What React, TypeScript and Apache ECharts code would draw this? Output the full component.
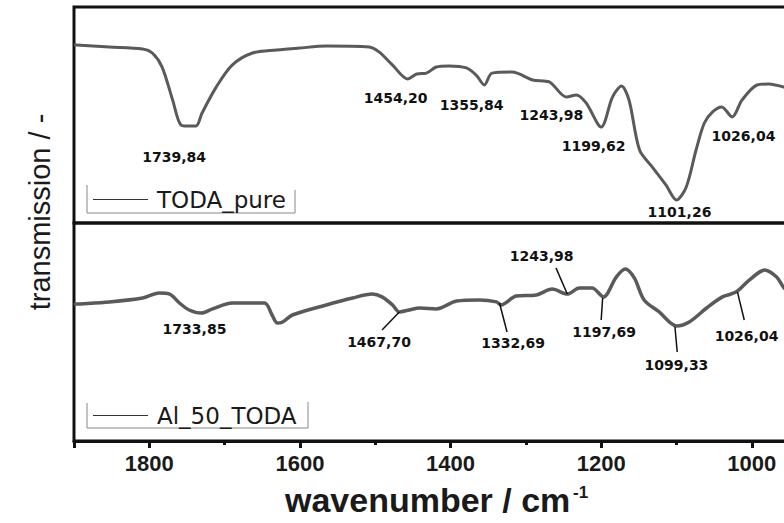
import React, { useEffect, useRef } from "react";
import * as echarts from "echarts";

// Top spectrum: TODA_pure
const topWavenumber = [1900, 1897, 1853, 1809, 1796, 1783, 1769, 1758, 1748, 1738, 1730, 1711, 1690, 1663, 1631, 1601, 1565, 1508, 1495, 1477, 1457, 1445, 1432, 1419, 1402, 1379, 1366, 1355, 1345, 1318, 1291, 1269, 1246, 1233, 1220, 1200, 1185, 1173, 1163, 1149, 1132, 1114, 1100, 1087, 1074, 1063, 1052, 1040, 1026, 1013, 993, 977, 958, 940];
const topTransmission = [82.5, 82.4, 81.5, 80.6, 78.7, 72.2, 56.9, 45.4, 44.9, 44.9, 50.9, 63.0, 73.1, 78.7, 80.1, 81.0, 81.9, 81.5, 79.2, 73.1, 66.7, 69.0, 69.4, 72.2, 72.7, 71.8, 68.5, 63.9, 69.4, 69.9, 66.2, 65.3, 58.3, 59.3, 55.6, 44.4, 58.3, 63.4, 56.9, 33.8, 25.9, 17.6, 10.6, 16.7, 33.8, 46.3, 51.4, 53.7, 49.1, 56.9, 63.9, 64.4, 63.0, 62.0];

// Bottom spectrum: Al_50_TODA
const bottomWavenumber = [1900, 1897, 1853, 1809, 1787, 1773, 1760, 1747, 1731, 1716, 1690, 1647, 1637, 1630, 1623, 1610, 1565, 1530, 1504, 1491, 1477, 1468, 1455, 1441, 1419, 1392, 1362, 1339, 1333, 1313, 1286, 1265, 1245, 1229, 1212, 1197, 1180, 1168, 1156, 1143, 1123, 1100, 1083, 1060, 1039, 1021, 1003, 983, 967, 958, 940];
const bottomTransmission = [62.7, 62.8, 63.8, 65.6, 67.9, 67.4, 63.3, 60.1, 58.7, 60.6, 63.3, 63.3, 57.8, 54.1, 54.6, 57.8, 62.4, 65.6, 67.4, 66.1, 62.4, 59.2, 60.1, 61.0, 60.6, 64.2, 64.7, 63.8, 62.4, 66.5, 67.0, 69.7, 67.4, 70.2, 70.2, 66.1, 75.2, 78.9, 74.8, 64.7, 59.2, 52.8, 54.6, 61.0, 66.1, 68.3, 73.9, 78.4, 75.2, 70.6, 64.0];

// Peak annotations: label text, label anchor (wavenumber, transmission)
const topPeakLabels = ["1739,84", "1454,20", "1355,84", "1243,98", "1199,62", "1101,26", "1026,04"];
const topPeakLabelW = [1767, 1473, 1372, 1266, 1210, 1096, 1011];
const topPeakLabelV = [30.6, 57.9, 54.6, 50.0, 35.6, 5.1, 40.3];

const bottomPeakLabels = ["1733,85", "1467,70", "1332,69", "1243,98", "1197,69", "1099,33", "1026,04"];
const bottomPeakLabelW = [1740, 1495, 1317, 1279, 1196, 1100, 1007];
const bottomPeakLabelV = [51.4, 45.4, 45.0, 84.9, 50.0, 34.9, 48.2];

// Leader lines in bottom panel: from (w, v) on curve to (w, v) near label
const leaderFromW = [1468, 1335, 1245, 1198, 1102, 1019];
const leaderFromV = [59.2, 63.3, 67.4, 65.6, 52.3, 68.3];
const leaderToW = [1491, 1325, 1260, 1200, 1099, 1010];
const leaderToV = [50.9, 50.0, 79.4, 55.5, 40.8, 55.5];

const xTickLabels = [1000, 1200, 1400, 1600, 1800];

const zip = (a: number[], b: number[]) => a.map((v, i) => [v, b[i]]);

export default function App() {
  const ref = useRef<HTMLDivElement>(null);
  useEffect(() => {
    if (!ref.current) return;
    const chart = echarts.init(ref.current, undefined, { renderer: "svg" });
    const axisColor = "#111";
    const lineColor = "#5a5a5a";
    const gridLeft = 74;
    const gridWidth = 828.4;
    const peakLabelStyle = {
      show: true,
      position: "inside" as const,
      formatter: "{b}",
      fontFamily: "DejaVu Sans",
      fontWeight: "bold" as const,
      fontSize: 14,
      color: "#111",
      opacity: 1,
    };
    const legendCommon = {
      left: 93,
      orient: "horizontal" as const,
      padding: 0,
      icon: "rect",
      itemWidth: 55,
      itemHeight: 1,
      selectedMode: false,
      itemStyle: { color: "#333", borderWidth: 0 },
      textStyle: { fontFamily: "DejaVu Sans", fontSize: 23, color: "#1a1a1a", padding: [0, 0, 0, 4] },
    };
    chart.setOption({
      animation: false,
      backgroundColor: "#fff",
      grid: [
        { left: gridLeft, width: gridWidth, top: 7, height: 216, show: true, borderColor: axisColor, borderWidth: 3, backgroundColor: "transparent" },
        { left: gridLeft, width: gridWidth, top: 223, height: 218, show: true, borderColor: axisColor, borderWidth: 3, backgroundColor: "transparent" },
      ],
      xAxis: [
        { gridIndex: 0, type: "value", min: 800, max: 1900, inverse: true, show: false },
        {
          gridIndex: 1, type: "value", min: 800, max: 1900, inverse: true, interval: 200, position: "bottom",
          axisLine: { show: true, onZero: false, lineStyle: { color: axisColor, width: 3 } },
          axisTick: { show: true, inside: false, length: 7, lineStyle: { color: axisColor, width: 3 } },
          splitLine: { show: false },
          axisLabel: {
            margin: 11,
            fontFamily: "Liberation Sans",
            fontWeight: "bold",
            fontSize: 22,
            color: "#1a1a1a",
            formatter: (v: number) => (xTickLabels.indexOf(v) >= 0 ? String(v) : ""),
          },
        },
        {
          gridIndex: 1, type: "value", min: 800, max: 1900, inverse: true, interval: 100, position: "bottom",
          axisLine: { show: false, onZero: false },
          axisTick: { show: true, inside: false, length: 4, lineStyle: { color: axisColor, width: 3 } },
          splitLine: { show: false },
          axisLabel: { show: false },
        },
      ],
      yAxis: [
        { gridIndex: 0, type: "value", min: 0, max: 100, show: false },
        { gridIndex: 1, type: "value", min: 0, max: 100, show: false },
      ],
      legend: [
        { ...legendCommon, top: 188, data: ["TODA_pure"] },
        { ...legendCommon, top: 404, data: ["Al_50_TODA"] },
      ],
      series: [
        {
          name: "TODA_pure", type: "line", xAxisIndex: 0, yAxisIndex: 0,
          data: zip(topWavenumber, topTransmission),
          showSymbol: false, symbol: "none", smooth: 0.3,
          lineStyle: { color: lineColor, width: 3 }, itemStyle: { color: lineColor },
        },
        {
          name: "Al_50_TODA", type: "line", xAxisIndex: 1, yAxisIndex: 1,
          data: zip(bottomWavenumber, bottomTransmission),
          showSymbol: false, symbol: "none", smooth: 0.3,
          lineStyle: { color: lineColor, width: 3.5 }, itemStyle: { color: lineColor },
          markLine: {
            silent: true,
            symbol: ["none", "none"],
            label: { show: false },
            lineStyle: { color: "#111", width: 1.5, type: "solid" },
            data: leaderFromW.map((w, i) => [
              { coord: [w, leaderFromV[i]] },
              { coord: [leaderToW[i], leaderToV[i]] },
            ]),
          },
        },
        {
          name: "topPeaks", type: "scatter", xAxisIndex: 0, yAxisIndex: 0,
          symbolSize: 1, itemStyle: { color: "#fff", opacity: 0 },
          label: peakLabelStyle,
          data: topPeakLabels.map((t, i) => ({ name: t, value: [topPeakLabelW[i], topPeakLabelV[i]] })),
        },
        {
          name: "bottomPeaks", type: "scatter", xAxisIndex: 1, yAxisIndex: 1,
          symbolSize: 1, itemStyle: { color: "#fff", opacity: 0 },
          label: peakLabelStyle,
          data: bottomPeakLabels.map((t, i) => ({ name: t, value: [bottomPeakLabelW[i], bottomPeakLabelV[i]] })),
        },
      ],
      graphic: [
        {
          type: "polyline", silent: true,
          shape: { points: [[87, 185], [87, 213], [295, 213], [295, 190]] },
          style: { stroke: "#888", lineWidth: 1, fill: "none" },
        },
        {
          type: "polyline", silent: true,
          shape: { points: [[87, 403], [87, 428], [308, 428], [308, 402]] },
          style: { stroke: "#888", lineWidth: 1, fill: "none" },
        },
        {
          type: "text", x: 285, y: 500, silent: true,
          style: { text: "wavenumber / cm", fontFamily: "Liberation Sans", fontWeight: "bold", fontSize: 34, fill: "#1a1a1a", align: "left", verticalAlign: "middle" },
        },
        {
          type: "text", x: 573, y: 492, silent: true,
          style: { text: "-1", fontFamily: "Liberation Sans", fontWeight: "bold", fontSize: 17, fill: "#1a1a1a", align: "left", verticalAlign: "middle" },
        },
        {
          type: "text", x: 40, y: 212, rotation: Math.PI / 2, silent: true,
          style: { text: "transmission / -", fontFamily: "Liberation Sans", fontSize: 29, fill: "#1a1a1a", align: "center", verticalAlign: "middle" },
        },
      ],
    });
    return () => chart.dispose();
  }, []);
  return (
    <div style={{ position: "fixed", left: 0, top: 0, width: 784, height: 523, overflow: "hidden", background: "#fff" }}>
      <div ref={ref} style={{ width: 920, height: 523 }} />
    </div>
  );
}
